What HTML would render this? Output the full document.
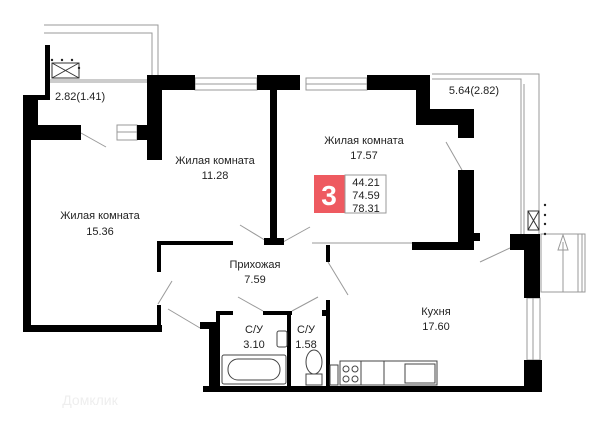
<!DOCTYPE html>
<html><head><meta charset="utf-8"><style>
html,body{margin:0;padding:0;background:#fff;width:600px;height:424px;overflow:hidden}
text{font-family:"Liberation Sans",sans-serif;font-size:11px;fill:#222;text-anchor:middle}
</style></head><body>
<svg width="600" height="424" viewBox="0 0 600 424" xmlns="http://www.w3.org/2000/svg">
<g fill="none" stroke="#999" stroke-width="1">
<!-- left balcony -->
<polyline points="44,25 158,25 158,75"/>
<polyline points="44,33 152,33 152,75"/>
<line x1="50" y1="80" x2="147" y2="80"/><line x1="50" y1="82" x2="147" y2="82"/>
<!-- windows -->
<rect x="195" y="78" width="62" height="12"/><line x1="195" y1="84" x2="257" y2="84"/>
<rect x="306" y="78" width="61" height="12"/><line x1="306" y1="84" x2="367" y2="84"/>
<rect x="117" y="125" width="20" height="7"/><rect x="117" y="132" width="20" height="8"/>
<!-- right balcony -->
<polyline points="432,74 539,74 539,234"/>
<polyline points="432,79 521,79 521,234"/>
<line x1="524" y1="84" x2="524" y2="234"/>
<rect x="541" y="234" width="44" height="58"/>
<line x1="578" y1="234" x2="578" y2="292"/><line x1="582" y1="234" x2="582" y2="292"/>
<line x1="563" y1="242" x2="563" y2="292"/>
<polygon points="558,250 563,235 568,250"/>
<!-- kitchen window -->
<rect x="527" y="298" width="13" height="62"/><line x1="533" y1="298" x2="533" y2="360"/>
<!-- vents -->
<rect x="52" y="63" width="27" height="15" stroke="#333"/><line x1="52" y1="63" x2="79" y2="78" stroke="#333"/><line x1="79" y1="63" x2="52" y2="78" stroke="#333"/>
<rect x="528" y="211" width="11" height="19" stroke="#333"/><line x1="528" y1="211" x2="539" y2="230" stroke="#333"/><line x1="539" y1="211" x2="528" y2="230" stroke="#333"/>
<!-- door lines -->
<line x1="81" y1="133" x2="106" y2="147"/>
<line x1="446" y1="142" x2="462" y2="170"/>
<line x1="480" y1="262" x2="510" y2="248"/>
<line x1="240" y1="225" x2="268" y2="242"/>
<line x1="283" y1="242" x2="310" y2="227"/>
<line x1="328" y1="262" x2="348" y2="295"/>
<line x1="172" y1="281" x2="158" y2="304"/>
<line x1="168" y1="309" x2="200" y2="328"/>
<line x1="238" y1="297" x2="263" y2="311"/>
<line x1="292" y1="311" x2="318" y2="297"/>
<line x1="312" y1="243" x2="412" y2="243"/>
</g>
<g fill="#222" stroke="none">
<circle cx="52" cy="60" r="1.2"/><circle cx="62" cy="60" r="1.2"/><circle cx="72" cy="60" r="1.2"/><circle cx="79" cy="68" r="1.2"/>
<circle cx="545" cy="205" r="1.2"/><circle cx="545" cy="215" r="1.2"/><circle cx="545" cy="224" r="1.2"/><circle cx="545" cy="234" r="1.2"/>
</g>
<g fill="#000">
<rect x="45" y="45" width="5" height="52"/>
<rect x="23" y="95" width="27" height="5"/>
<rect x="23" y="95" width="15" height="45"/>
<rect x="23" y="125" width="58" height="15"/>
<rect x="23" y="125" width="8" height="207"/>
<rect x="23" y="325" width="139" height="7"/>
<rect x="147" y="75" width="48" height="15"/>
<rect x="147" y="75" width="15" height="85"/>
<rect x="137" y="125" width="18" height="15"/>
<rect x="257" y="75" width="43" height="15"/>
<rect x="270" y="75" width="7" height="170"/>
<rect x="264" y="238" width="20" height="7"/>
<rect x="367" y="75" width="63" height="15"/>
<rect x="416" y="75" width="14" height="50"/>
<rect x="416" y="109" width="58" height="16"/>
<rect x="458" y="109" width="16" height="29"/>
<rect x="458" y="170" width="16" height="80"/>
<rect x="474" y="233" width="6" height="8"/>
<rect x="412" y="242" width="62" height="8"/>
<rect x="160" y="241" width="73" height="4"/>
<rect x="157" y="241" width="4" height="31"/>
<rect x="157" y="305" width="4" height="27"/>
<rect x="326" y="245" width="4" height="17"/>
<rect x="510" y="234" width="29" height="16"/>
<rect x="524" y="234" width="16" height="64"/>
<rect x="524" y="360" width="18" height="32"/>
<rect x="200" y="322" width="16" height="7"/>
<rect x="209" y="322" width="7" height="70"/>
<rect x="216" y="311" width="17" height="4"/>
<rect x="216" y="311" width="4" height="78"/>
<rect x="263" y="311" width="29" height="4"/>
<rect x="287" y="311" width="4" height="76"/>
<rect x="326" y="300" width="4" height="87"/>
<rect x="322" y="310" width="5" height="6"/>
<rect x="203" y="386" width="339" height="6"/>
</g>
<g fill="none" stroke="#444" stroke-width="1">
<rect x="222" y="355" width="64" height="29" rx="2"/>
<rect x="228" y="359" width="52" height="21" rx="10"/>
<rect x="277" y="331" width="10" height="16" rx="2"/>
<rect x="306" y="374" width="16" height="11"/>
<ellipse cx="314" cy="362" rx="8" ry="12"/>
<rect x="330" y="365" width="8" height="20"/>
<rect x="340" y="361" width="97" height="24"/>
<circle cx="346" cy="369" r="3"/><circle cx="355" cy="369" r="3"/><circle cx="346" cy="379" r="3"/><circle cx="355" cy="379" r="3"/>
<line x1="361" y1="361" x2="361" y2="385"/><line x1="384" y1="361" x2="384" y2="385"/>
<rect x="405" y="364" width="30" height="19"/>
</g>
<rect x="314" y="175" width="31" height="38" fill="#ee5a60"/>
<rect x="345" y="175" width="41" height="38" fill="#fff" stroke="#999"/>
<text x="329" y="205" style="font-size:28px;fill:#fff;font-weight:bold">3</text>
<text x="366" y="186">44.21</text>
<text x="366" y="199">74.59</text>
<text x="366" y="212">78.31</text>
<text x="79" y="100" style="text-anchor:start;font-size:11px" dx="-24">2.82(1.41)</text>
<text x="474" y="94">5.64(2.82)</text>
<text x="215" y="164">Жилая комната</text><text x="215" y="179">11.28</text>
<text x="364" y="144">Жилая комната</text><text x="364" y="159">17.57</text>
<text x="100" y="219">Жилая комната</text><text x="100" y="235">15.36</text>
<text x="255" y="268">Прихожая</text><text x="255" y="283">7.59</text>
<text x="254" y="333">С/У</text><text x="254" y="348">3.10</text>
<text x="306" y="333">С/У</text><text x="306" y="348">1.58</text>
<text x="436" y="315">Кухня</text><text x="436" y="330">17.60</text>
<text x="90" y="405" style="font-size:14px;fill:#eee">Домклик</text>
</svg>
</body></html>
